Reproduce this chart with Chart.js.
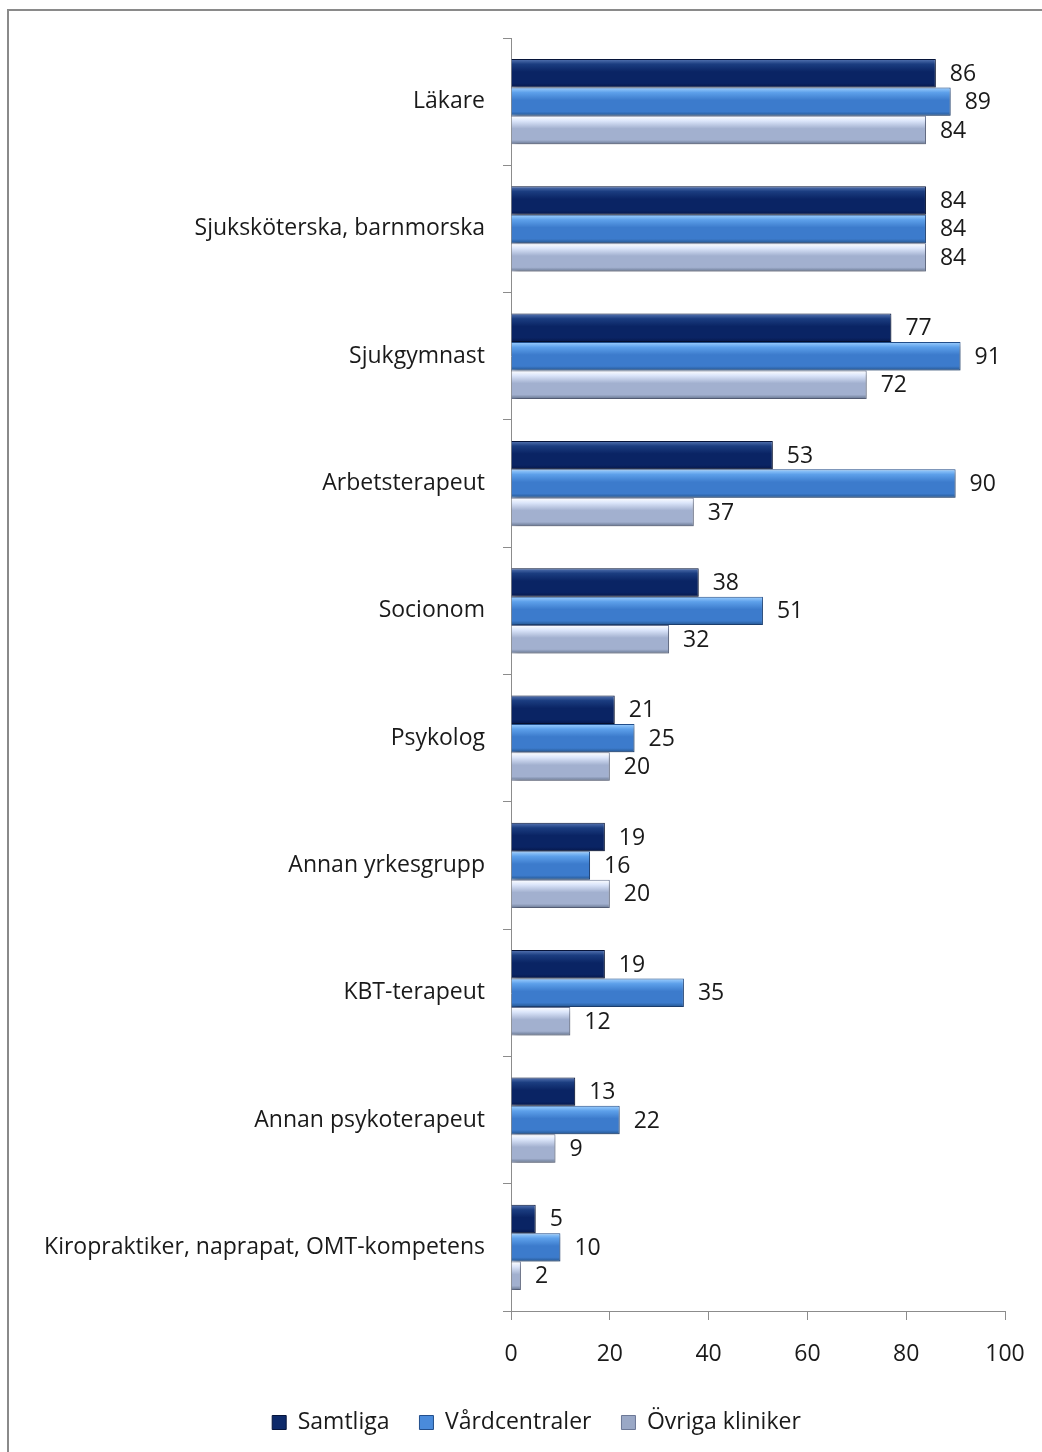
<!DOCTYPE html>
<html>
<head>
<meta charset="utf-8">
<script src="https://cdn.jsdelivr.net/npm/chart.js"></script>
<style>
  html, body { margin: 0; padding: 0; background: #fff; }
  #wrap { position: relative; width: 1042px; height: 1452px; overflow: hidden; }
  #frame { position: absolute; left: 7px; top: 9px; width: 1100px; height: 1500px; border: 2px solid #8a8a8a; box-sizing: border-box; }
  canvas { position: absolute; left: 0; top: 0; }
</style>
</head>
<body>
<div id="wrap">
  <div id="frame"></div>
  <canvas id="chart" width="1042" height="1452"></canvas>
</div>
<script>
const categories = [
  "Läkare",
  "Sjuksköterska, barnmorska",
  "Sjukgymnast",
  "Arbetsterapeut",
  "Socionom",
  "Psykolog",
  "Annan yrkesgrupp",
  "KBT-terapeut",
  "Annan psykoterapeut",
  "Kiropraktiker, naprapat, OMT-kompetens"
];
const samtliga = [86, 84, 77, 53, 38, 21, 19, 19, 13, 5];
const vardcentraler = [89, 84, 91, 90, 51, 25, 16, 35, 22, 10];
const ovriga = [84, 84, 72, 37, 32, 20, 20, 12, 9, 2];
const xTicks = [0, 20, 40, 60, 80, 100];

const FONT = "'Open Sans', sans-serif";
const SIZE = 23;

// gradient stops (top highlight -> body -> dark bottom edge) for each series
const shades = {
  samtliga: ["#5877b4", "#1b3d80", "#0a2464", "#06174a"],
  vard: ["#9fd0ff", "#5da0ea", "#3c7bcc", "#24558f"],
  ovriga: ["#ffffff", "#dbe5fa", "#a2b0cf", "#66758f"]
};

// paint each bar with a vertical gradient and a soft drop shadow
const bevelPlugin = {
  id: "bevel",
  beforeDatasetsDraw(chart) {
    const ctx = chart.ctx;
    chart.data.datasets.forEach((ds, i) => {
      const meta = chart.getDatasetMeta(i);
      meta.data.forEach(bar => {
        const top = bar.y - bar.height / 2;
        const bottom = bar.y + bar.height / 2;
        const g = ctx.createLinearGradient(0, top, 0, bottom);
        g.addColorStop(0, ds.shade[0]);
        g.addColorStop(0.18, ds.shade[1]);
        g.addColorStop(0.45, ds.shade[2]);
        g.addColorStop(0.85, ds.shade[2]);
        g.addColorStop(1, ds.shade[3]);
        bar.options = Object.assign({}, bar.options, { backgroundColor: g });
      });
    });
    ctx.save();
    ctx.shadowColor = "rgba(0,0,0,0.3)";
    ctx.shadowBlur = 5;
    ctx.shadowOffsetX = 2;
    ctx.shadowOffsetY = 3;
  },
  afterDatasetsDraw(chart) {
    chart.ctx.restore();
  }
};

// value next to the end of every bar
const valueLabels = {
  id: "valueLabels",
  afterDatasetsDraw(chart) {
    const ctx = chart.ctx;
    ctx.save();
    ctx.font = SIZE + "px " + FONT;
    ctx.fillStyle = "#1a1a1a";
    ctx.textAlign = "left";
    ctx.textBaseline = "middle";
    chart.data.datasets.forEach((ds, i) => {
      chart.getDatasetMeta(i).data.forEach((bar, j) => {
        ctx.fillText(ds.data[j], bar.x + 14, bar.y + 1);
      });
    });
    ctx.restore();
  }
};

// nudge the legend a little to the right of the canvas centre
const legendShift = {
  id: "legendShift",
  afterLayout(chart) {
    if (chart.legend) {
      chart.legend.left += 30;
      chart.legend.right += 30;
    }
  }
};

new Chart(document.getElementById("chart"), {
  type: "bar",
  data: {
    labels: categories,
    datasets: [
      { label: "Samtliga", data: samtliga, shade: shades.samtliga, backgroundColor: "#0e2a6a", borderColor: "#06143a" },
      { label: "Vårdcentraler", data: vardcentraler, shade: shades.vard, backgroundColor: "#4a8bdb", borderColor: "#234f8c" },
      { label: "Övriga kliniker", data: ovriga, shade: shades.ovriga, backgroundColor: "#9aa8c6", borderColor: "#6c7896" }
    ]
  },
  options: {
    indexAxis: "y",
    responsive: false,
    animation: false,
    devicePixelRatio: 1,
    layout: { padding: { left: 8, right: 37, top: 38, bottom: 8 } },
    datasets: {
      bar: { categoryPercentage: 0.67, barPercentage: 1.0, borderWidth: 1 }
    },
    scales: {
      x: {
        min: 0,
        max: 100,
        afterBuildTicks(scale) {
          scale.ticks = xTicks.map(v => ({ value: v }));
        },
        afterFit(scale) {
          scale.height = 70;
          scale.paddingLeft = 0;
          scale.paddingRight = 0;
        },
        grid: { drawOnChartArea: false, color: "#8c8c8c", tickLength: 9 },
        border: { color: "#8c8c8c" },
        ticks: { color: "#1a1a1a", font: { size: SIZE, family: FONT }, padding: 21 }
      },
      y: {
        afterFit(scale) { scale.width = 503; },
        grid: { drawOnChartArea: false, offset: true, color: "#8c8c8c", tickLength: 8 },
        border: { color: "#8c8c8c" },
        ticks: { color: "#1a1a1a", font: { size: SIZE, family: FONT }, padding: 18 }
      }
    },
    plugins: {
      legend: {
        position: "bottom",
        maxHeight: 72,
        labels: {
          color: "#1a1a1a",
          font: { size: SIZE, family: FONT },
          boxWidth: 14,
          boxHeight: 14,
          padding: 30
        }
      },
      tooltip: { enabled: false }
    }
  },
  plugins: [bevelPlugin, valueLabels, legendShift]
});
</script>
</body>
</html>
